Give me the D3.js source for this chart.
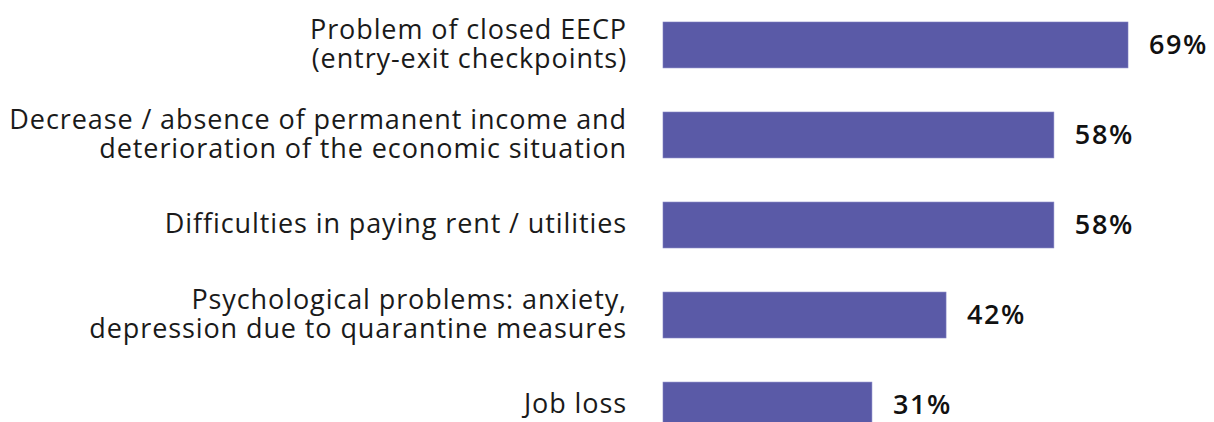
<!DOCTYPE html>
<html><head><meta charset="utf-8">
<script src="https://cdn.jsdelivr.net/npm/d3@7"></script>
<style>html,body{margin:0;padding:0;background:#fff;}svg{display:block;}</style>
</head><body>
<svg id="chart" width="1214" height="422"></svg>
<script>
const categories = [
  ["Problem of closed EECP", "(entry-exit checkpoints)"],
  ["Decrease / absence of permanent income and", "deterioration of the economic situation"],
  ["Difficulties in paying rent / utilities"],
  ["Psychological problems: anxiety,", "depression due to quarantine measures"],
  ["Job loss"]
];
const values = [69, 58, 58, 42, 31];
const valueLabels = ["69%", "58%", "58%", "42%", "31%"];

const svg = d3.select("#chart");
const keys = categories.map((c, i) => "c" + i);
const x = d3.scaleLinear().domain([0, 69]).range([663, 1128]);
const y = d3.scaleBand().domain(keys).range([22, 428]).paddingInner(0.49).paddingOuter(0);

svg.selectAll("rect.bar").data(values).join("rect")
  .attr("class", "bar")
  .attr("x", x(0))
  .attr("y", (d, i) => y(keys[i]))
  .attr("width", d => x(d) - x(0))
  .attr("height", y.bandwidth())
  .attr("fill", "#5a5aa7")
  .attr("stroke", "#7d7dc0").attr("stroke-width", 0.6);

svg.selectAll("text.val").data(values).join("text")
  .attr("class", "val")
  .attr("x", d => x(d) + 21)
  .attr("y", (d, i) => y(keys[i]) + y.bandwidth() / 2)
  .attr("dy", "0.35em")
  .attr("font-family", "'Open Sans', sans-serif")
  .attr("font-weight", 600)
  .attr("font-size", 27)
  .attr("letter-spacing", 1.6)
  .attr("fill", "#111")
  .text((d, i) => valueLabels[i]);

const lh = 29;
const g = svg.selectAll("text.cat").data(categories).join("text")
  .attr("class", "cat")
  .attr("text-anchor", "end")
  .attr("font-family", "'Open Sans', sans-serif")
  .attr("font-weight", 400)
  .attr("font-size", 27)
  .attr("letter-spacing", 0.9)
  .attr("fill", "#1a1a1a")
  .attr("transform", (d, i) => `translate(627,${y(keys[i]) + y.bandwidth() / 2})`);
g.selectAll("tspan").data(d => d.map((t, j) => ({t, j, n: d.length}))).join("tspan")
  .attr("x", 0)
  .attr("y", d => (d.j - (d.n - 1) / 2) * lh)
  .attr("dy", "0.3em")
  .text(d => d.t);
</script>
</body></html>
